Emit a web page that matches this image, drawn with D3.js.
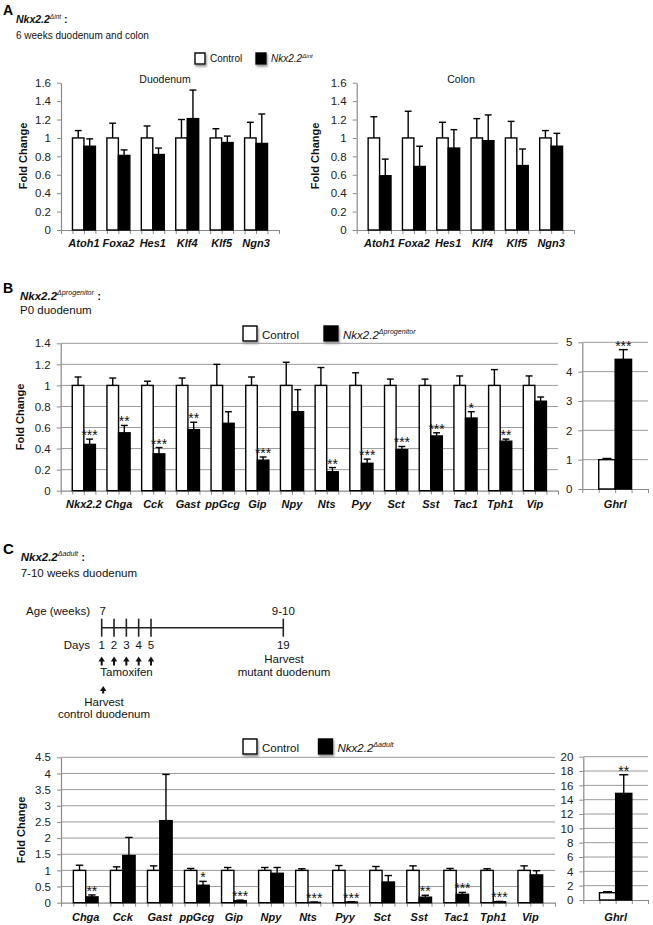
<!DOCTYPE html>
<html>
<head>
<meta charset="utf-8">
<script src="https://cdn.jsdelivr.net/npm/d3@7"></script>
<style>
  body { margin: 0; background: #fff; }
  svg { display: block; font-family: "Liberation Sans", Arial, sans-serif; }
</style>
</head>
<body>
<svg id="fig" width="653" height="925"></svg>
<script>
// ---- Panel A: 6 weeks duodenum and colon ----
var aGenes = ['Atoh1', 'Foxa2', 'Hes1', 'Klf4', 'Klf5', 'Ngn3'];
var duoCtrl = [1, 1, 1, 1, 1, 1];
var duoCtrlErr = [0.08, 0.16, 0.13, 0.2, 0.1, 0.17];
var duoMut = [0.91, 0.81, 0.82, 1.21, 0.95, 0.94];
var duoMutErr = [0.08, 0.06, 0.07, 0.31, 0.07, 0.32];
var colCtrl = [1, 1, 1, 1, 1, 1];
var colCtrlErr = [0.23, 0.29, 0.17, 0.21, 0.18, 0.08];
var colMut = [0.59, 0.69, 0.89, 0.97, 0.70, 0.91];
var colMutErr = [0.18, 0.22, 0.20, 0.28, 0.18, 0.14];
var aTicks = [0, 0.2, 0.4, 0.6, 0.8, 1, 1.2, 1.4, 1.6];

// ---- Panel B: P0 duodenum ----
var bGenes = ['Nkx2.2', 'Chga', 'Cck', 'Gast', 'ppGcg', 'Gip', 'Npy', 'Nts', 'Pyy', 'Sct', 'Sst', 'Tac1', 'Tph1', 'Vip'];
var bCtrl = [1, 1, 1, 1, 1, 1, 1, 1, 1, 1, 1, 1, 1, 1];
var bCtrlErr = [0.08, 0.07, 0.04, 0.07, 0.2, 0.08, 0.22, 0.17, 0.12, 0.06, 0.06, 0.09, 0.15, 0.09];
var bMut = [0.44, 0.55, 0.35, 0.58, 0.64, 0.29, 0.75, 0.18, 0.26, 0.39, 0.52, 0.69, 0.47, 0.85];
var bMutErr = [0.05, 0.07, 0.06, 0.07, 0.11, 0.03, 0.21, 0.04, 0.04, 0.03, 0.03, 0.06, 0.02, 0.04];
var bStars = ['***', '**', '***', '**', '', '***', '', '**', '***', '***', '***', '*', '**', ''];
var bTicks = [0, 0.2, 0.4, 0.6, 0.8, 1, 1.2, 1.4];
var bGhrlCtrl = [1.0], bGhrlCtrlErr = [0.04];
var bGhrlMut = [4.42], bGhrlMutErr = [0.33];
var bGhrlStars = ['***'];
var bGhrlTicks = [0, 1, 2, 3, 4, 5];

// ---- Panel C: 7-10 weeks duodenum ----
var cGenes = ['Chga', 'Cck', 'Gast', 'ppGcg', 'Gip', 'Npy', 'Nts', 'Pyy', 'Sct', 'Sst', 'Tac1', 'Tph1', 'Vip'];
var cCtrl = [1, 1, 1, 1, 1, 1, 1, 1, 1, 1, 1, 1, 1];
var cCtrlErr = [0.16, 0.11, 0.14, 0.06, 0.09, 0.09, 0.05, 0.15, 0.12, 0.14, 0.06, 0.05, 0.14];
var cMut = [0.18, 1.46, 2.54, 0.54, 0.06, 0.91, 0.01, 0.02, 0.64, 0.17, 0.26, 0.03, 0.86];
var cMutErr = [0.06, 0.56, 1.43, 0.12, 0.02, 0.18, 0.01, 0.01, 0.2, 0.06, 0.06, 0.01, 0.13];
var cStars = ['**', '', '', '*', '***', '', '***', '***', '', '**', '***', '***', ''];
var cTicks = [0, 0.5, 1, 1.5, 2, 2.5, 3, 3.5, 4, 4.5];
var cGhrlCtrl = [1.02], cGhrlCtrlErr = [0.14];
var cGhrlMut = [14.88], cGhrlMutErr = [2.6];
var cGhrlStars = ['**'];
var cGhrlTicks = [0, 2, 4, 6, 8, 10, 12, 14, 16, 18, 20];

// timeline schematic
var tamoxDays = [1, 2, 3, 4, 5];
var timelineDays = [1, 2, 3, 4, 5, 19];
var ageDays = [1, 19], ageLabels = ['7', '9-10'];

var FONT = '"Liberation Sans", Arial, sans-serif';
var AXIS = '#8a8a8a';

var svg = d3.select('#fig');
svg.append('rect').attr('width', 653).attr('height', 925).attr('fill', '#fff');

svg.append('defs').append('filter').attr('id', 'shadow')
  .attr('x', '-40%').attr('y', '-40%').attr('width', '190%').attr('height', '190%')
  .append('feDropShadow').attr('dx', 1).attr('dy', 2).attr('stdDeviation', 1.2)
  .attr('flood-color', '#666').attr('flood-opacity', 0.7);

function fmt(d) { return String(+d.toFixed(1)); }

// gene name with a superscript allele tag
function supText(g, x, y, size, base, sup, tail, bold) {
  var t = g.append('text').attr('x', x).attr('y', y).attr('font-size', size)
    .attr('font-style', 'italic').attr('font-weight', bold ? 'bold' : 'normal').attr('fill', '#111');
  t.append('tspan').text(base);
  t.append('tspan').attr('font-size', size * 0.62).attr('font-weight', 'normal')
    .attr('dy', -size * 0.4).text(sup);
  if (tail) t.append('tspan').attr('dy', size * 0.4).attr('font-style', 'normal').text(tail);
  return t;
}

function legend(x0, x1, top, box, size, sup) {
  var g = svg.append('g');
  g.append('rect').attr('x', x0).attr('y', top).attr('width', box).attr('height', box + 1)
    .attr('fill', '#fff').attr('stroke', '#000').attr('stroke-width', 1.4).attr('filter', 'url(#shadow)');
  g.append('text').attr('x', x0 + box + 5).attr('y', top + box - 1).attr('font-size', size)
    .attr('fill', '#111').text('Control');
  g.append('rect').attr('x', x1).attr('y', top).attr('width', box).attr('height', box + 1)
    .attr('fill', '#000').attr('stroke', '#000').attr('stroke-width', 1.4).attr('filter', 'url(#shadow)');
  supText(g, x1 + box + 5, top + box - 1, size, 'Nkx2.2', sup, null, false);
}

function styleAxis(a) {
  a.attr('font-size', 11.5).attr('font-family', FONT);
  a.select('.domain').attr('stroke', AXIS).attr('stroke-width', 1.2);
  a.selectAll('.tick line').attr('stroke', AXIS);
  a.selectAll('.tick text').attr('fill', '#222');
}

function barChart(c) {
  var g = svg.append('g');
  var x = d3.scaleBand().domain(c.cats).range(c.xr).paddingInner(1 / 3).paddingOuter(1 / 3);
  var sub = d3.scaleBand().domain(['ctrl', 'mut']).range([0, x.bandwidth()]);
  var y = d3.scaleLinear().domain([0, c.max]).range(c.yr);
  var n = c.cats.length;

  if (c.grid) {
    g.selectAll('line.grid').data(c.ticks.slice(1)).enter().append('line')
      .attr('class', 'grid')
      .attr('x1', c.xr[0]).attr('x2', c.xr[1])
      .attr('y1', function (d) { return y(d); }).attr('y2', function (d) { return y(d); })
      .attr('stroke', '#9a9a9a').attr('stroke-width', 1);
  }

  var ya = g.append('g').attr('transform', 'translate(' + c.xr[0] + ',0)')
    .call(d3.axisLeft(y).tickValues(c.ticks).tickFormat(fmt).tickSize(4).tickSizeOuter(0).tickPadding(6));
  styleAxis(ya);

  var xt = d3.scaleLinear().domain([0, 3 * n + 1]).range(c.xr);
  var xa = g.append('g').attr('transform', 'translate(0,' + y(0) + ')')
    .call(d3.axisBottom(xt).tickValues(d3.range(3 * n + 2)).tickFormat('').tickSize(4).tickSizeOuter(0));
  styleAxis(xa);

  var rows = [];
  c.cats.forEach(function (k, i) {
    rows.push({ cat: k, s: 'ctrl', v: c.ctrl[i], e: c.ctrlErr[i], star: '' });
    rows.push({ cat: k, s: 'mut', v: c.mut[i], e: c.mutErr[i], star: c.stars ? c.stars[i] : '' });
  });
  function cx(d) { return x(d.cat) + sub(d.s) + sub.bandwidth() / 2; }
  var capW = Math.min(9, sub.bandwidth() * 0.6);

  g.selectAll('rect.bar').data(rows).enter().append('rect')
    .attr('class', 'bar')
    .attr('x', function (d) { return x(d.cat) + sub(d.s); })
    .attr('width', sub.bandwidth())
    .attr('y', function (d) { return y(d.v); })
    .attr('height', function (d) { return y(0) - y(d.v); })
    .attr('fill', function (d) { return d.s === 'ctrl' ? '#fff' : '#000'; })
    .attr('stroke', '#000').attr('stroke-width', 1.4);

  g.selectAll('line.err').data(rows).enter().append('line')
    .attr('class', 'err')
    .attr('x1', cx).attr('x2', cx)
    .attr('y1', function (d) { return y(d.v); })
    .attr('y2', function (d) { return y(d.v + d.e); })
    .attr('stroke', '#000').attr('stroke-width', 1.4);
  g.selectAll('line.cap').data(rows).enter().append('line')
    .attr('class', 'cap')
    .attr('x1', function (d) { return cx(d) - capW / 2; })
    .attr('x2', function (d) { return cx(d) + capW / 2; })
    .attr('y1', function (d) { return y(d.v + d.e); })
    .attr('y2', function (d) { return y(d.v + d.e); })
    .attr('stroke', '#000').attr('stroke-width', 1.4);

  g.selectAll('text.star').data(rows.filter(function (d) { return d.star; })).enter().append('text')
    .attr('class', 'star')
    .attr('x', cx).attr('y', function (d) { return y(d.v + d.e) + 1; })
    .attr('text-anchor', 'middle').attr('font-size', 14).attr('fill', '#111')
    .text(function (d) { return d.star; });

  g.selectAll('text.cat').data(c.cats).enter().append('text')
    .attr('class', 'cat')
    .attr('x', function (d) { return x(d) + x.bandwidth() / 2; })
    .attr('y', c.labelY)
    .attr('text-anchor', 'middle').attr('font-size', 11)
    .attr('font-weight', 'bold').attr('font-style', 'italic').attr('fill', '#111')
    .text(function (d) { return d; });

  if (c.title) {
    g.append('text').attr('x', c.title[1]).attr('y', c.title[2])
      .attr('text-anchor', 'middle').attr('font-size', 10.5).attr('fill', '#111').text(c.title[0]);
  }
  if (c.yLabel) {
    g.append('text').attr('transform', 'translate(' + c.yLabel[0] + ',' + c.yLabel[1] + ') rotate(-90)')
      .attr('text-anchor', 'middle').attr('font-size', 11).attr('font-weight', 'bold')
      .attr('fill', '#111').text('Fold Change');
  }
}

// ================= Panel A =================
svg.append('text').attr('x', 3).attr('y', 15).attr('font-size', 14).attr('font-weight', 'bold').text('A');
supText(svg, 16, 23, 10.5, 'Nkx2.2', '\u0394int', ' :', true);
svg.append('text').attr('x', 16).attr('y', 39).attr('font-size', 10).attr('fill', '#111')
  .text('6 weeks duodenum and colon');
legend(195, 256, 53, 10, 10, '\u0394int');

barChart({ cats: aGenes, ctrl: duoCtrl, ctrlErr: duoCtrlErr, mut: duoMut, mutErr: duoMutErr,
  xr: [61, 279], yr: [230, 82.7], max: 1.6, ticks: aTicks, grid: false, labelY: 247,
  title: ['Duodenum', 165, 83], yLabel: [27, 156] });
barChart({ cats: aGenes, ctrl: colCtrl, ctrlErr: colCtrlErr, mut: colMut, mutErr: colMutErr,
  xr: [356.7, 574], yr: [230, 82.7], max: 1.6, ticks: aTicks, grid: false, labelY: 247,
  title: ['Colon', 461, 83], yLabel: [319, 156] });

// ================= Panel B =================
svg.append('text').attr('x', 3).attr('y', 293).attr('font-size', 14).attr('font-weight', 'bold').text('B');
supText(svg, 20, 300, 11.5, 'Nkx2.2', '\u0394progenitor', ' :', true);
svg.append('text').attr('x', 20).attr('y', 314).attr('font-size', 11.5).attr('fill', '#111').text('P0 duodenum');
legend(243, 324, 326, 14, 11.5, '\u0394progenitor');

barChart({ cats: bGenes, ctrl: bCtrl, ctrlErr: bCtrlErr, mut: bMut, mutErr: bMutErr, stars: bStars,
  xr: [60.7, 558], yr: [490.7, 343.3], max: 1.4, ticks: bTicks, grid: true, labelY: 508,
  yLabel: [24, 417] });
barChart({ cats: ['Ghrl'], ctrl: bGhrlCtrl, ctrlErr: bGhrlCtrlErr, mut: bGhrlMut, mutErr: bGhrlMutErr,
  stars: bGhrlStars, xr: [582.3, 648], yr: [489, 342.3], max: 5, ticks: bGhrlTicks, grid: true,
  labelY: 508 });

// ================= Panel C =================
svg.append('text').attr('x', 3).attr('y', 554).attr('font-size', 15).attr('font-weight', 'bold').text('C');
supText(svg, 20.7, 561, 11.5, 'Nkx2.2', '\u0394adult', ' :', true);
svg.append('text').attr('x', 20.7).attr('y', 576.5).attr('font-size', 11.5).attr('fill', '#111')
  .text('7-10 weeks duodenum');

// timeline
var tl = svg.append('g').attr('font-size', 11.5).attr('fill', '#111');
var dayX = d3.scaleLinear().domain([1, 5, 19]).range([101.7, 151, 283.3]);
var lineY = 627.7;
tl.append('line').attr('x1', dayX(1)).attr('x2', dayX(19)).attr('y1', lineY).attr('y2', lineY)
  .attr('stroke', '#222').attr('stroke-width', 1.6);
tl.selectAll('line.tick').data(timelineDays).enter().append('line').attr('class', 'tick')
  .attr('x1', dayX).attr('x2', dayX).attr('y1', lineY - 9).attr('y2', lineY + 9)
  .attr('stroke', '#222').attr('stroke-width', 1.6);
tl.append('text').attr('x', 90).attr('y', 615).attr('text-anchor', 'end').text('Age (weeks)');
tl.selectAll('text.age').data(ageDays).enter().append('text').attr('class', 'age')
  .attr('x', function (d) { return dayX(d) + (d === 1 ? 1 : 0); }).attr('y', 615).attr('text-anchor', 'middle')
  .text(function (d, i) { return ageLabels[i]; });
tl.append('text').attr('x', 90).attr('y', 649).attr('text-anchor', 'end').text('Days');
tl.selectAll('text.day').data(timelineDays).enter().append('text').attr('class', 'day')
  .attr('x', dayX).attr('y', 649).attr('text-anchor', 'middle').text(function (d) { return d; });

function arrow(x, top, bottom) {
  tl.append('line').attr('x1', x).attr('x2', x).attr('y1', top + 4).attr('y2', bottom)
    .attr('stroke', '#111').attr('stroke-width', 2);
  tl.append('path').attr('d', 'M' + (x - 3.2) + ',' + (top + 5) + 'L' + x + ',' + top + 'L' + (x + 3.2) + ',' + (top + 5) + 'Z')
    .attr('fill', '#111');
}
tamoxDays.forEach(function (d) { arrow(dayX(d), 656.5, 665.5); });
tl.append('text').attr('x', 126.5).attr('y', 676).attr('text-anchor', 'middle').text('Tamoxifen');
arrow(dayX(1) + 1.5, 686, 693.5);
tl.append('text').attr('x', 104).attr('y', 706).attr('text-anchor', 'middle').text('Harvest');
tl.append('text').attr('x', 104).attr('y', 718.3).attr('text-anchor', 'middle').text('control duodenum');
tl.append('text').attr('x', 284).attr('y', 662.5).attr('text-anchor', 'middle').text('Harvest');
tl.append('text').attr('x', 284).attr('y', 676).attr('text-anchor', 'middle').text('mutant duodenum');

legend(243, 318.5, 739, 14, 11.5, '\u0394adult');

barChart({ cats: cGenes, ctrl: cCtrl, ctrlErr: cCtrlErr, mut: cMut, mutErr: cMutErr, stars: cStars,
  xr: [61, 555], yr: [902.7, 757.3], max: 4.5, ticks: cTicks, grid: true, labelY: 921,
  yLabel: [25, 830] });
barChart({ cats: ['Ghrl'], ctrl: cGhrlCtrl, ctrlErr: cGhrlCtrlErr, mut: cGhrlMut, mutErr: cGhrlMutErr,
  stars: cGhrlStars, xr: [583.3, 648], yr: [900, 756.7], max: 20, ticks: cGhrlTicks, grid: true,
  labelY: 921 });
</script>
</body>
</html>
